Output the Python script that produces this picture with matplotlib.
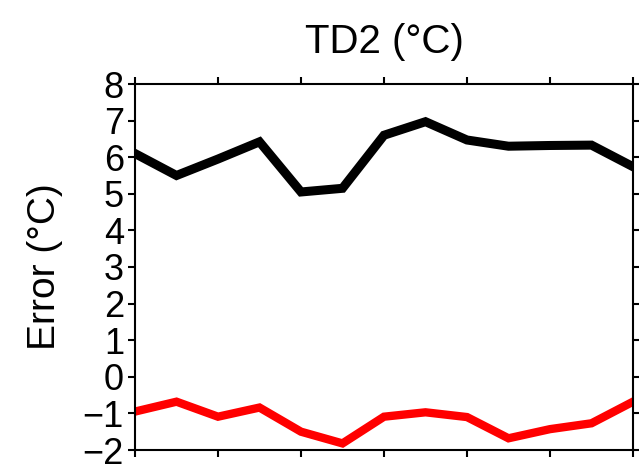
import matplotlib
matplotlib.use("Agg")
import matplotlib.pyplot as plt

# Data
x_index = list(range(13))
black_err = [6.1, 5.5, 5.95, 6.42, 5.05, 5.15, 6.6, 6.97, 6.47, 6.3, 6.32, 6.33, 5.74]
red_err = [-0.95, -0.68, -1.09, -0.84, -1.5, -1.82, -1.09, -0.97, -1.1, -1.68, -1.43, -1.27, -0.68]
y_ticks = list(range(-2, 9))
x_ticks = [0, 2, 4, 6, 8, 10, 12]

plt.rcParams['font.family'] = ['Liberation Sans', 'DejaVu Sans']

fig = plt.figure(figsize=(6.39, 4.68), dpi=100)
ax = fig.add_axes([135 / 639, 1 - 450 / 468, (633 - 135) / 639, (450 - 84) / 468])

ax.plot(x_index, black_err, color='black', linewidth=6.5, solid_joinstyle='miter')
ax.plot(x_index, red_err, color='#ff0000', linewidth=6.0, solid_joinstyle='miter')

ax.set_xlim(0, 12)
ax.set_ylim(-2, 8)
ax.set_yticks(y_ticks)
ax.set_xticks(x_ticks)
ax.set_xticklabels([])
ax.tick_params(axis='both', direction='out', length=5, width=1.5,
               top=True, right=True, labelsize=26, pad=3)
for s in ax.spines.values():
    s.set_linewidth(1.5)

ax.set_title("TD2 (°C)", fontsize=29, pad=22)
ax.set_ylabel("Error (°C)", fontsize=28, labelpad=14)

fig.savefig("out.png", dpi=100)
